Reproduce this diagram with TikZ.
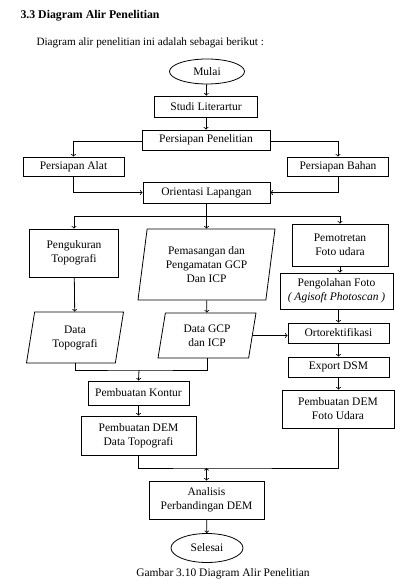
\documentclass[tikz,border=0pt]{standalone}
\usepackage{fontspec}
\setmainfont{Liberation Serif}
\usepackage{tikz}
\usetikzlibrary{shapes.geometric}

\begin{document}
\begin{tikzpicture}[x=1pt, y=-1pt,
    font=\fontsize{11.5}{14}\selectfont,
    box/.style={draw, line width=0.8pt, align=center, inner sep=1pt},
    oval/.style={draw, ellipse, line width=0.8pt, inner sep=1pt},
    slanted/.style={draw, trapezium, trapezium left angle=#1, trapezium right angle=180-#1,
                    trapezium stretches body, line width=0.8pt, align=center, inner sep=1pt},
    arr/.style={->, thick}, ln/.style={thick}]
    \useasboundingbox (0, 0) rectangle (395, 580);
    \node (title) [anchor=west, font=\fontsize{11.8}{13}\selectfont\bfseries] at (17, 16) {3.3 Diagram Alir Penelitian};
    \node (intro) [anchor=west, font=\fontsize{11.2}{13}\selectfont] at (33, 43) {Diagram alir penelitian ini adalah sebagai berikut :};
    \node (mulai) [oval, minimum width=75, minimum height=25] at (207, 71.5) {Mulai};
    \node (studi) [box, minimum width=103, minimum height=21] at (206, 106.5) {Studi Literartur};
    \node (siap) [box, minimum width=128, minimum height=20] at (206, 140) {Persiapan Penelitian};
    \node (alat) [box, minimum width=101, minimum height=19] at (73.5, 166.5) {Persiapan Alat};
    \node (bahan) [box, minimum width=101, minimum height=19] at (338, 166.5) {Persiapan Bahan};
    \node (orientasi) [box, minimum width=127, minimum height=21] at (206.5, 192.5) {Orientasi Lapangan};
    \node (ukur) [box, minimum width=89, minimum height=48] at (74, 253) {Pengukuran\\Topografi};
    \node (pasang) [slanted=76.5, minimum width=137, minimum height=71] at (206.5, 264.5) {Pemasangan dan\\Pengamatan GCP\\Dan ICP};
    \node (potret) [box, minimum width=96, minimum height=42] at (340, 245) {Pemotretan\\Foto udara};
    \node (olah) [box, minimum width=113, minimum height=36] at (336.5, 291) {Pengolahan Foto\\\textit{( Agisoft Photoscan )}};
    \node (dtopo) [slanted=72.6, minimum width=97, minimum height=51] at (75, 337.5) {Data\\Topografi};
    \node (dgcp) [slanted=72.7, minimum width=98, minimum height=45] at (207, 335.5) {Data GCP\\dan ICP};
    \node (orto) [box, minimum width=101, minimum height=20] at (338.5, 333) {Ortorektifikasi};
    \node (export) [box, minimum width=101, minimum height=20] at (338.5, 367) {Export DSM};
    \node (demfoto) [box, minimum width=112, minimum height=38] at (338, 409) {Pembuatan DEM\\Foto Udara};
    \node (kontur) [box, minimum width=101, minimum height=24] at (138.5, 393) {Pembuatan Kontur};
    \node (demtopo) [box, minimum width=115, minimum height=39] at (138.5, 435.5) {Pembuatan DEM\\Data Topografi};
    \node (analisis) [box, minimum width=115, minimum height=38] at (206.5, 500) {Analisis\\Perbandingan DEM};
    \node (selesai) [oval, minimum width=72, minimum height=29] at (207, 548) {Selesai};
    \node (caption) [font=\fontsize{11.5}{13}\selectfont] at (223, 574) {Gambar 3.10 Diagram Alir Penelitian};
    \coordinate (split) at (206.5, 216);
    \coordinate (merge) at (139, 370);
    \coordinate (join) at (206.5, 468);
    \draw[arr] (mulai) edge (studi)
               (studi) edge (siap)
               (siap.west |- 0, 141) -| (alat.north);
    \draw[arr] (siap.east |- 0, 141) -| (bahan.north);
    \draw[arr] (alat.south) |- (orientasi.west);
    \draw[arr] (bahan.south) |- (orientasi.east);
    \draw[arr] (orientasi.south) -- (pasang.north);
    \draw[arr] (split) -| (ukur.north);
    \draw[arr] (split) -| (potret.north);
    \draw[arr] (ukur) edge (dtopo)
               (pasang) edge (dgcp)
               (dgcp.east) edge (dgcp.east -| orto.west)
               (potret.south) edge (potret.south |- olah.north)
               (olah.south -| orto.north) edge (orto.north)
               (orto) edge (export)
               (export.south) edge (export.south |- demfoto.north)
               (merge) edge (kontur.north)
               (kontur) edge (demtopo)
               (join) edge (analisis.north)
               (analisis) edge (selesai);
    \draw[ln] (dtopo.south) |- (merge) -| (dgcp.south);
    \draw[ln] (demtopo.south) |- (join) -| (demfoto.south);
\end{tikzpicture}
\end{document}
